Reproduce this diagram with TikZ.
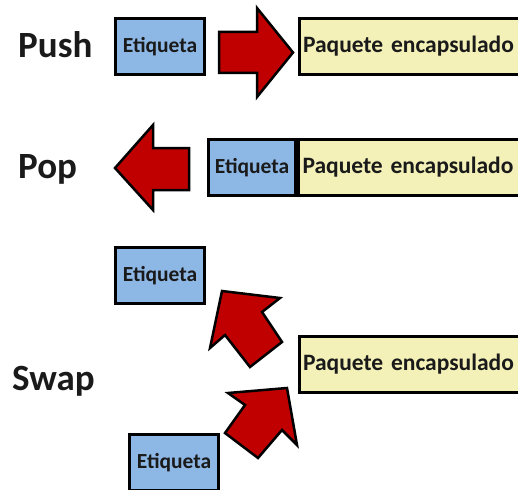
\documentclass[tikz,border=0pt]{standalone}
\usepackage{fontspec}
\setmainfont{Carlito}
\definecolor{tagblue}{HTML}{8DB8E6}
\definecolor{pktyellow}{HTML}{F3F1B8}
\definecolor{arrowred}{HTML}{C00000}
\definecolor{textdark}{HTML}{1A1A1A}
\begin{document}
\begin{tikzpicture}[x=1pt,y=-1pt,
  lbl/.style={font=\fontsize{37}{40}\selectfont\bfseries, inner sep=0pt, anchor=base west, text=textdark},
  tagbox/.style={draw=black, line width=3pt, fill=tagblue, minimum width=89pt, minimum height=56pt, inner sep=0pt, font=\fontsize{21.5}{23}\selectfont\bfseries, text=textdark},
  pkt/.style={draw=black, line width=3pt, fill=pktyellow, anchor=west, minimum height=56pt, text width=250pt, inner xsep=4pt, inner ysep=0pt, align=left, font=\fontsize{23.5}{26}\selectfont\bfseries, text=textdark},
  blockarrow/.style={draw=black, line width=2.5pt, fill=arrowred, line join=miter}]
\useasboundingbox (0,0) rectangle (518,489);
\clip (0,0) rectangle (518,489);
% Push
\node[lbl] (push) at (18,58) {Push};
\node[tagbox] (tag1) at (160,46.5) {Etiqueta};
\node[pkt] (pkt1) at (297.5,46.5) {Paquete encapsulado};
\draw[blockarrow] (219,32) -- (257,32) -- (257,8) -- (293,52.5) -- (257,97) -- (257,73) -- (219,73) -- cycle;
% Pop
\node[lbl] (pop) at (18,178) {Pop};
\draw[blockarrow] (189,148) -- (153,148) -- (153,125) -- (115,168) -- (153,210) -- (153,190) -- (189,190) -- cycle;
\node[tagbox, minimum width=87pt] (tag2) at (252,167.5) {Etiqueta};
\node[pkt] (pkt2) at (297,167.5) {Paquete encapsulado};
% Swap
\node[lbl] (swap) at (12,390) {Swap};
\node[tagbox] (tag3) at (160,275.5) {Etiqueta};
\node[pkt] (pkt3) at (297.5,364) {Paquete encapsulado};
\node[tagbox] (tag4) at (174,462.5) {Etiqueta};
\draw[blockarrow] (250,367) -- (225,335) -- (210,348) -- (222,291) -- (280,298) -- (262,312) -- (282,342) -- cycle;
\draw[blockarrow] (225,433) -- (245,405) -- (228,393) -- (287,388) -- (297,445) -- (282,430) -- (258,458) -- cycle;
\end{tikzpicture}
\end{document}
